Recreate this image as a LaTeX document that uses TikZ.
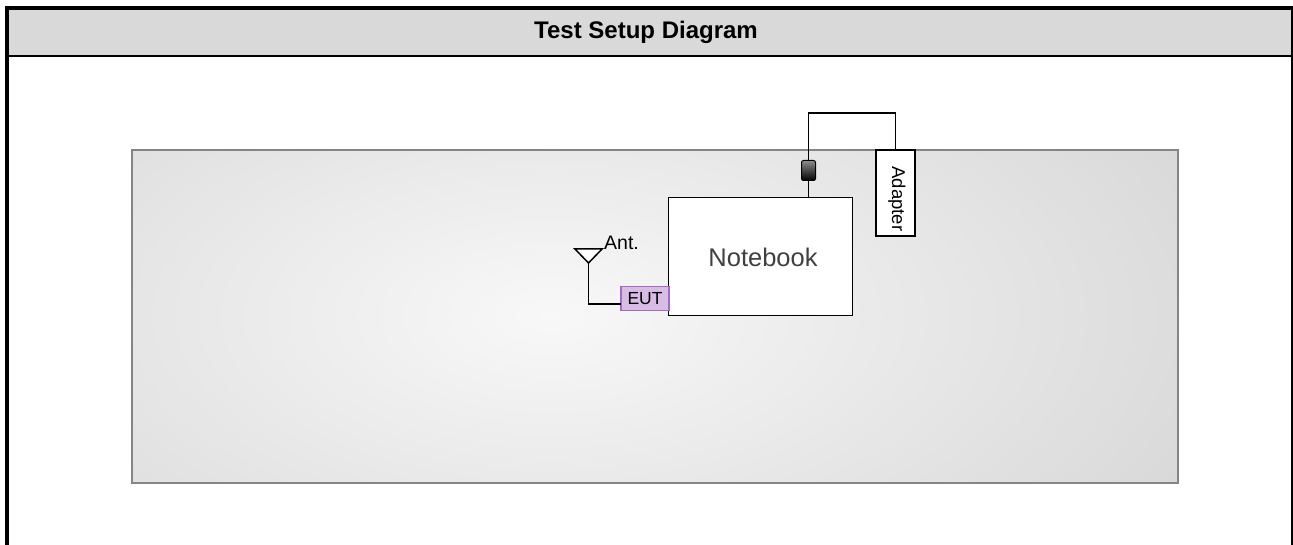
\documentclass[tikz,border=0pt]{standalone}
\usepackage{fontspec}
\setmainfont{Liberation Sans}
\usetikzlibrary{calc}
\definecolor{hdr}{HTML}{D9D9D9}
\definecolor{boxedge}{HTML}{858585}
\definecolor{boxout}{HTML}{D3D3D3}
\definecolor{boxin}{HTML}{F8F8F8}
\definecolor{eutfill}{HTML}{D8BCE6}
\definecolor{eutedge}{HTML}{A06EC0}
\definecolor{nbtext}{HTML}{404040}
\pgfdeclareradialshading{bgrad}{\pgfpoint{0bp}{0bp}}{color(0bp)=(boxin); color(27bp)=(boxout); color(50bp)=(boxout)}
\tikzset{
  wire/.style={line width=1.5pt, black},
  devbox/.style={draw=black, line width=1.5pt, fill=white, inner sep=0pt, anchor=center},
}
\begin{document}
\begin{tikzpicture}[x=1pt,y=-1pt]
\useasboundingbox (0,0) rectangle (1293,545);
\fill[white] (0,0) rectangle (1293,545);
% header
\fill[hdr] (7,8) rectangle (1292,56);
\node[font=\fontsize{24}{28}\selectfont\bfseries] (title) at (646,32) {Test Setup Diagram};
\draw[line width=2.5pt] (7,56) -- (1292,56);
\draw[line width=4pt] (7,545) -- (7,8) -- (1293,8);
\draw[line width=4pt] (1293,8) -- (1293,545);
% gray area
\begin{scope}
\clip (132,150) rectangle (1178,483);
\fill[boxout] (132,150) rectangle (1178,483);
\shade[shading=bgrad] (551,316) ellipse (780 and 390);
\end{scope}
\draw[boxedge, line width=2pt] (132,150) rectangle (1178,483);
% devices
\node[devbox, minimum width=184pt, minimum height=118pt] (nb) at (760.5,256.5) {};
\node[text=nbtext, font=\fontsize{25.5}{30}\selectfont] (nbl) at (763,257) {Notebook};
\node[devbox, minimum width=39pt, minimum height=86pt] (adapter) at (895.5,193) {};
\node[rotate=-90, font=\fontsize{18.5}{22}\selectfont] (adl) at (897,199) {Adapter};
\shade[top color=black!45, bottom color=black, draw=black, line width=1pt, rounded corners=2pt] (801.5,160.5) rectangle (815.5,180.5);
\node[minimum width=14pt, minimum height=20pt, inner sep=0pt] (conn) at (808.5,170.5) {};
\node[draw=eutedge, line width=1.5pt, fill=eutfill, minimum width=48pt, minimum height=24pt, inner sep=0pt, font=\fontsize{17.5}{20}\selectfont] (eut) at (645,298.5) {EUT};
% antenna
\coordinate (apex) at (588.5,263);
\draw[wire, fill=white, line join=miter] (575,249) -- (602,249) -- (apex) -- cycle;
\node[font=\fontsize{19.5}{22}\selectfont, anchor=south west, inner sep=0pt] (antl) at (604,250) {Ant.};
\coordinate (eutin) at (621,304);
% wires
\draw[wire] (conn.south) -- (conn.south |- nb.north);
\coordinate (topbend) at (850,113);
\draw[wire] (conn.north) |- (topbend) -| (adapter.north);
\draw[wire] (apex) |- (eutin);
\end{tikzpicture}
\end{document}
